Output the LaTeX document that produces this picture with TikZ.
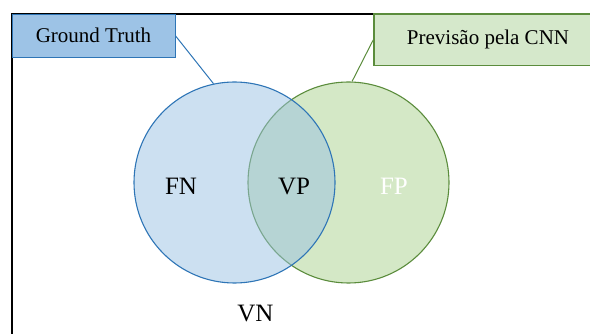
\documentclass[tikz,border=0pt]{standalone}
\usepackage{fontspec}
\setmainfont{Liberation Serif}
\definecolor{gtfill}{HTML}{9DC3E6}
\definecolor{gtline}{HTML}{2E75B6}
\definecolor{cnnfill}{HTML}{D5E8CB}
\definecolor{cnnline}{HTML}{5B8C3C}
\definecolor{bluecirc}{HTML}{99C1E3}
\definecolor{greencirc}{HTML}{D4E8C6}
\tikzset{
  frame/.style={line width=2pt, black},
  labelbox/.style={rectangle, inner sep=0pt, font=\fontsize{21}{24}\selectfont},
  setcircle/.style={circle, inner sep=0pt, minimum size=201pt, line width=1.1pt},
  region/.style={font=\fontsize{25}{28}\selectfont, inner sep=0pt},
  leader/.style={line width=1pt}
}
\begin{document}
\begin{tikzpicture}[x=1pt, y=-1pt]
  \useasboundingbox (0,0) rectangle (590,334);
  \clip (0,0) rectangle (590,334);
  % outer frame (left and top edges)
  \draw[frame] (12,340) -- (12,14) -- (600,14);
  % prediction set (underneath)
  \node[setcircle, draw=cnnline, fill=greencirc] (pred) at (348.5,182.5) {};
  % ground-truth set, half transparent on top
  \node[setcircle, draw=gtline, fill=bluecirc, fill opacity=0.5] (gt) at (234.5,182.5) {};
  % region labels
  \node[region, anchor=base] (fn) at (181,194.3) {FN};
  \node[region, anchor=base] (vp) at (294,194.3) {VP};
  \node[region, anchor=base, text=white] (fp) at (394,194.3) {FP};
  \node[region, anchor=base] (vn) at (255.5,321.5) {VN};
  % legend boxes
  \node[labelbox, draw=gtline, line width=1pt, fill=gtfill,
        minimum width=163pt, minimum height=43.5pt] (gtbox) at (93.5,35.8) {Ground Truth};
  \node[labelbox, draw=cnnline, line width=1.4pt, fill=cnnfill,
        minimum width=228pt, minimum height=51.5pt] (cnnbox) at (488,39.8) {Previsão pela CNN};
  % leader lines
  \draw[leader, gtline] (gtbox.east) -- (gt.102.7);
  \draw[leader, cnnline] (cnnbox.west) -- (pred.88);
\end{tikzpicture}
\end{document}
